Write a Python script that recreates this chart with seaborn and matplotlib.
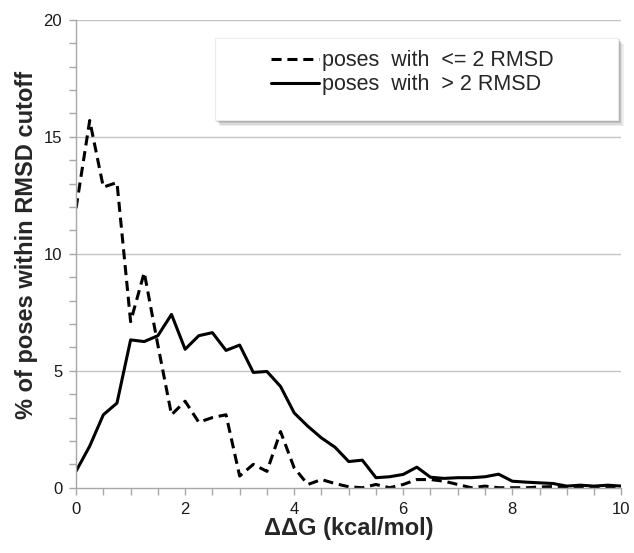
import numpy as np
import pandas as pd
import matplotlib
matplotlib.use("Agg")
import matplotlib.pyplot as plt
import seaborn as sns
from matplotlib.ticker import MultipleLocator
from matplotlib.patches import Rectangle

# ΔΔG bins (kcal/mol), 0.25 step
ddg = [0.0, 0.25, 0.5, 0.75, 1.0, 1.25, 1.5, 1.75, 2.0, 2.25, 2.5, 2.75,
       3.0, 3.25, 3.5, 3.75, 4.0, 4.25, 4.5, 4.75, 5.0, 5.25, 5.5, 5.75,
       6.0, 6.25, 6.5, 6.75, 7.0, 7.25, 7.5, 7.75, 8.0, 8.25, 8.5, 8.75,
       9.0, 9.25, 9.5, 9.75, 10.0]

# % of poses, RMSD <= 2
pct_low = [11.95, 15.7, 12.85, 13.05, 7.1, 9.2, 6.1, 3.12, 3.7, 2.8, 3.0, 3.12,
           0.5, 1.0, 0.7, 2.4, 0.85, 0.14, 0.35, 0.18, 0.04, 0.0, 0.14, 0.0,
           0.14, 0.35, 0.35, 0.28, 0.14, 0.0, 0.07, 0.0, 0.0, 0.0, 0.03, 0.05,
           0.05, 0.05, 0.05, 0.05, 0.05]

# % of poses, RMSD > 2
pct_high = [0.71, 1.78, 3.12, 3.62, 6.32, 6.25, 6.5, 7.41, 5.92, 6.5, 6.63, 5.87,
            6.1, 4.93, 4.97, 4.33, 3.2, 2.63, 2.13, 1.73, 1.12, 1.18, 0.43, 0.47,
            0.57, 0.88, 0.45, 0.4, 0.43, 0.43, 0.47, 0.58, 0.28, 0.24, 0.21, 0.18,
            0.07, 0.11, 0.07, 0.11, 0.07]

labels = ["poses  with  <= 2 RMSD", "poses  with  > 2 RMSD"]

sns.set_style("white")
plt.rcParams['font.family'] = ['Liberation Sans', 'DejaVu Sans']

fig, ax = plt.subplots(figsize=(6.34, 5.53), dpi=100)
fig.subplots_adjust(left=0.12, right=0.98, top=0.964, bottom=0.118)

for y in [5, 10, 15, 20]:
    ax.axhline(y, color='#c4c4c4', lw=1.0, zorder=0)

sns.lineplot(x=ddg, y=pct_low, ax=ax, color='black', lw=2.2,
             linestyle=(0, (3.3, 1.9)), label=labels[0])
sns.lineplot(x=ddg, y=pct_high, ax=ax, color='black', lw=2.2,
             linestyle='-', label=labels[1])

ax.set_xlim(0, 10)
ax.set_ylim(0, 20)
ax.xaxis.set_major_locator(MultipleLocator(2))
ax.xaxis.set_minor_locator(MultipleLocator(0.5))
ax.yaxis.set_major_locator(MultipleLocator(5))
ax.yaxis.set_minor_locator(MultipleLocator(1))

sns.despine(ax=ax)
for s in ['left', 'bottom']:
    ax.spines[s].set_color('#a8a8a8')
    ax.spines[s].set_linewidth(1.0)

ax.tick_params(which='both', direction='out', color='#a8a8a8', width=1.0, length=5)
ax.tick_params(which='major', labelsize=12, labelcolor='#1a1a1a', pad=5)
ax.tick_params(axis='x', which='both', bottom=True)
ax.tick_params(axis='y', which='both', left=True)

ax.set_xlabel('ΔΔG (kcal/mol)', fontsize=17, fontweight='bold', labelpad=0)
ax.set_ylabel('% of poses within RMSD cutoff', fontsize=17, fontweight='bold', labelpad=4)
ax.yaxis.label.set_y(0.52)

# legend box with a soft drop shadow
bx, by, bw, bh = 0.255, 0.786, 0.7395, 0.1755
for i, a in enumerate([0.10, 0.14, 0.18, 0.22]):
    off = 0.002 * (4 - i)
    ax.add_patch(Rectangle((bx + off * 1.2, by - off * 1.6), bw, bh,
                           transform=ax.transAxes, facecolor='#606060',
                           edgecolor='none', alpha=a, zorder=4, clip_on=False))
ax.add_patch(Rectangle((bx, by), bw, bh, transform=ax.transAxes,
                       facecolor='white', edgecolor='#ececec', lw=0.8,
                       zorder=5, clip_on=False))

leg = ax.legend(loc='center', bbox_to_anchor=(0.617, 0.887), fontsize=15.5,
                handlelength=2.2, handletextpad=0.15, labelspacing=0.15,
                frameon=False, borderpad=0.0)
leg.set_zorder(6)

fig.savefig('out.png', dpi=100)
